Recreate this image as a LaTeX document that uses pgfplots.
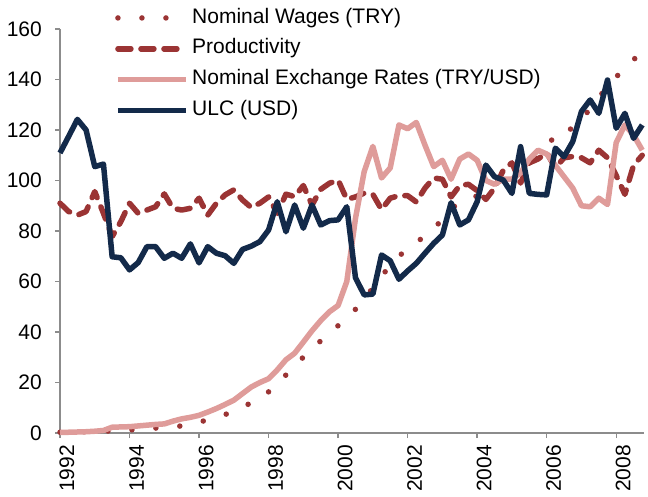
\documentclass[border=0pt]{standalone}
\usepackage{fontspec}
\setmainfont{Liberation Sans}
\usepackage{pgfplots}
\usepackage{pgfplotstable}
\pgfplotsset{compat=1.18}
\definecolor{ulc}{HTML}{132A4A}
\definecolor{wred}{HTML}{9B3434}
\definecolor{pinkx}{HTML}{DF9C9A}
\definecolor{axgray}{HTML}{8C8C8C}

\pgfplotstableread{
t wage prod fx ulc
1992.00 0.3 91 0.2 110.9
1992.25 0.35 87.7 0.3 117.5
1992.50 0.4 86.3 0.4 124.2
1992.75 0.5 87.7 0.5 120
1993.00 0.6 95.6 0.7 105.5
1993.25 0.7 87 1.0 106.5
1993.50 0.85 77.8 2.3 69.8
1993.75 1.0 83.7 2.4 69.4
1994.00 1.2 91 2.5 64.6
1994.25 1.45 87 2.8 67.5
1994.50 1.7 88.3 3.1 73.8
1994.75 1.95 89.6 3.4 73.8
1995.00 2.2 94.7 3.6 69.2
1995.25 2.5 89 4.7 71.2
1995.50 2.8 88.3 5.6 69.2
1995.75 3.5 89 6.2 74.9
1996.00 4.3 93 7.0 67.4
1996.25 5.2 86.3 8.3 73.8
1996.50 6.2 91 9.7 71.2
1996.75 7.3 94.3 11.3 70.2
1997.00 8.7 96.3 13.0 67.2
1997.25 10.2 92.3 15.6 72.7
1997.50 12 89.3 18.2 74
1997.75 13.8 91 20 75.8
1998.00 16.3 93.5 21.5 80.4
1998.25 19 87 25 91.6
1998.50 23 94.6 29 79.7
1998.75 27 93.6 31.6 90.3
1999.00 30 98 36 81.1
1999.25 33.3 90.3 40.5 90.3
1999.50 36.5 96.5 44.5 82.4
1999.75 39.8 98.9 48 84.1
2000.00 42.5 100.2 50.5 84.4
2000.25 45.5 92.5 60 89.6
2000.50 49 93.5 85 61.5
2000.75 53 95 103.5 54.7
2001.00 57.5 94.5 113.5 55
2001.25 62 88.5 101 70.5
2001.50 66.5 93 105 68.2
2001.75 70 94 122 60.9
2002.00 73 94 120.5 64.2
2002.25 75.5 91.5 123 67.2
2002.50 78 97 114 71.2
2002.75 80.5 101 105.5 75.1
2003.00 85 100.5 108 78.4
2003.25 89 93.5 100.5 91.2
2003.50 91 98 108.5 82.4
2003.75 92 98.5 110.5 84.4
2004.00 94 96 108 91.6
2004.25 96.5 92.5 100 106.1
2004.50 98.5 97 98.5 101.5
2004.75 100 104 100.5 100.2
2005.00 102 107 100.5 94.9
2005.25 104 99 103 113.4
2005.50 106.5 107 108.5 94.9
2005.75 109 108.5 112 94.5
2006.00 112 111 110.5 94.3
2006.25 119 105 106 112.8
2006.50 120 109 101.5 109.4
2006.75 120.5 109.5 97 115.4
2007.00 124 109 90 127.3
2007.25 128.5 107 89.6 131.9
2007.50 133 112 93 126.6
2007.75 137 109 90.5 139.8
2008.00 141 102 115 120.7
2008.25 144.5 94.5 122 126.6
2008.50 148 106 118 116.7
2008.75 150 110 112 122
}\data

\begin{document}
\fontsize{21}{24}\selectfont
\begin{tikzpicture}
\begin{axis}[
  name=ax,
  scale only axis,
  width=584pt, height=404pt,
  xmin=1992, xmax=2008.8,
  ymin=0, ymax=160,
  axis lines*=left,
  axis line style={axgray, line width=1.3pt},
  tick style={axgray, line width=1.3pt},
  major tick length=5pt,
  tick align=outside,
  xtick={1992,1994,...,2008},
  ytick={0,20,...,160},
  /pgf/number format/1000 sep={},
  /pgf/number format/assume math mode=true,
  tick label style={font=\fontsize{21}{24}\selectfont, text=black},
  xticklabel style={rotate=90, anchor=east, yshift=-7pt},
  yticklabel style={xshift=-6pt},
  clip=false,
  legend cell align=left,
  legend style={draw=none, fill=none, inner sep=0pt,
    at={(axis description cs:0,1)}, anchor=north west,
    xshift=55pt, yshift=21pt,
    font=\fontsize{21}{24}\selectfont,
    nodes={inner sep=0pt, text height=15pt, text depth=4.5pt},
    row sep=11.3pt,
    /tikz/every odd column/.append style={column sep=3.5pt}},
  legend image code/.code={\draw[#1] (0pt,0pt) -- (68pt,0pt);},
]
\addplot[wred, line width=5.5pt, line cap=round, dash pattern=on 0pt off 24pt] table[x=t,y=wage]{\data};
\addlegendentry{Nominal Wages (TRY)}
\addplot[wred, line width=5.5pt, line cap=round, line join=round, dash pattern=on 13pt off 10pt] table[x=t,y=prod]{\data};
\addlegendentry{Productivity}
\addplot[pinkx, line width=5.5pt, line join=round] table[x=t,y=fx]{\data};
\addlegendentry{Nominal Exchange Rates (TRY/USD)}
\addplot[ulc, line width=5.5pt, line join=round] table[x=t,y=ulc]{\data};
\addlegendentry{ULC (USD)}
\end{axis}
\pgfresetboundingbox
\path ([shift={(-60pt,-63pt)}]ax.south west) rectangle ([shift={(588pt,433pt)}]ax.south west);
\end{tikzpicture}
\end{document}
